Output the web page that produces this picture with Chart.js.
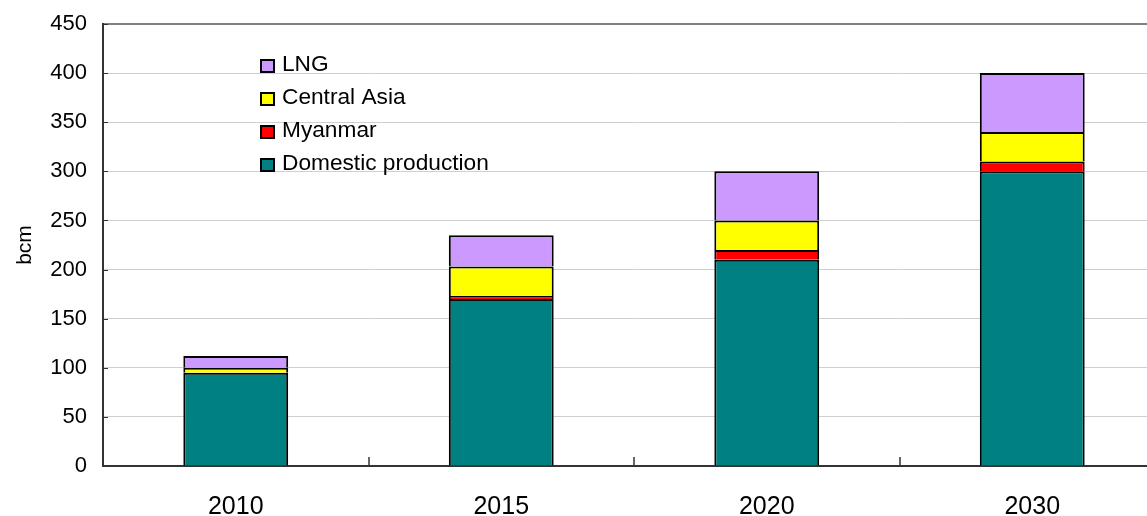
<!DOCTYPE html>
<html>
<head>
<meta charset="utf-8">
<script src="https://cdn.jsdelivr.net/npm/chart.js@4"></script>
<style>
  html, body { margin: 0; padding: 0; background: #fff; overflow: hidden; }
  #wrap { width: 1180px; height: 516px; }
</style>
</head>
<body>
<div id="wrap"><canvas id="chart1"></canvas></div>
<script>
'use strict';

var YEARS = ['2010', '2015', '2020', '2030'];
var DOMESTIC = [95, 170, 210, 300];
var MYANMAR = [0, 3, 10, 10];
var CENTRAL_ASIA = [5, 30, 30, 30];
var LNG = [12, 32, 50, 60];
var Y_TICKS = [0, 50, 100, 150, 200, 250, 300, 350, 400, 450];

var FONT = 'Liberation Sans, Arial, Helvetica, sans-serif';

// legend drawn inside the plot, top item first
var innerLegend = {
	id: 'innerLegend',
	afterDatasetsDraw: function(chart) {
		var ctx = chart.ctx;
		var sets = chart.data.datasets.slice().reverse();
		ctx.save();
		ctx.font = '22.7px ' + FONT;
		ctx.textBaseline = 'middle';
		sets.forEach(function(ds, i) {
			var y = 65 + i * 33;
			ctx.fillStyle = ds.backgroundColor;
			ctx.fillRect(261, y - 5, 13, 12);
			ctx.strokeStyle = '#000';
			ctx.lineWidth = 2;
			ctx.strokeRect(261, y - 5, 13, 12);
			ctx.fillStyle = '#000';
			ctx.fillText(ds.label, 282, y);
		});
		ctx.restore();
	}
};

// short tick marks pointing into the plot
var innerTicks = {
	id: 'innerTicks',
	afterDraw: function(chart) {
		var ctx = chart.ctx;
		var x = chart.scales.x, y = chart.scales.y;
		var area = chart.chartArea;
		ctx.save();
		ctx.strokeStyle = '#333';
		ctx.lineWidth = 1;
		Y_TICKS.forEach(function(v) {
			var py = Math.round(y.getPixelForValue(v)) + 0.5;
			ctx.beginPath();
			ctx.moveTo(area.left, py);
			ctx.lineTo(area.left + 5, py);
			ctx.stroke();
		});
		ctx.lineWidth = 1.5;
		for (var i = 1; i < YEARS.length; i++) {
			var px = Math.round((x.getPixelForValue(i - 1) + x.getPixelForValue(i)) / 2);
			ctx.beginPath();
			ctx.moveTo(px, area.bottom);
			ctx.lineTo(px, area.bottom - 9);
			ctx.stroke();
		}
		ctx.restore();
	}
};

function barSet(label, data, color) {
	return {
		label: label,
		data: data,
		backgroundColor: color,
		borderColor: '#000',
		borderWidth: 2,
		// each segment skips its lower edge so shared edges stay one line thick
		borderSkipped: 'start',
		categoryPercentage: 1,
		barPercentage: 0.395
	};
}

var ctx = document.getElementById('chart1').getContext('2d');
var gasChart = new Chart(ctx, {
	type: 'bar',
	data: {
		labels: YEARS,
		datasets: [
			barSet('Domestic production', DOMESTIC, '#008080'),
			barSet('Myanmar', MYANMAR, '#ff0000'),
			barSet('Central Asia', CENTRAL_ASIA, '#ffff00'),
			barSet('LNG', LNG, '#cc99ff')
		]
	},
	options: {
		responsive: true,
		maintainAspectRatio: false,
		animation: false,
		layout: { padding: { left: 0, right: 15, top: 24, bottom: 0 } },
		plugins: {
			legend: { display: false },
			tooltip: { enabled: false }
		},
		scales: {
			x: {
				stacked: true,
				grid: { display: false },
				border: { color: '#333', width: 2 },
				ticks: { color: '#000', padding: 18, font: { family: FONT, size: 25 } },
				afterFit: function(s) { s.height = 50; }
			},
			y: {
				stacked: true,
				min: 0,
				max: 450,
				grid: {
					drawTicks: false,
					color: function(c) { return c.tick && c.tick.value === 450 ? '#808080' : '#cfcfcf'; },
					lineWidth: function(c) { return c.tick && c.tick.value === 450 ? 2 : 1; }
				},
				border: { color: '#333', width: 2 },
				ticks: {
					stepSize: 50,
					color: '#000',
					padding: 16,
					font: { family: FONT, size: 22 }
				},
				title: {
					display: true,
					text: 'bcm',
					color: '#000',
					padding: { top: 13, bottom: 0 },
					font: { family: FONT, size: 21 }
				},
				afterFit: function(s) {
					s.width = 103;
					s.paddingTop = 0;
					s.paddingBottom = 0;
				}
			}
		}
	},
	plugins: [innerLegend, innerTicks]
});
</script>
</body>
</html>
